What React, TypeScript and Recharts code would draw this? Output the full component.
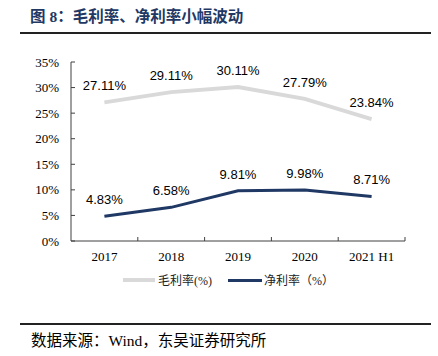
import React from "react";
import { LineChart, Line, XAxis, YAxis, LabelList } from "recharts";

const categories = ["2017", "2018", "2019", "2020", "2021 H1"];
const grossMargin = [27.11, 29.11, 30.11, 27.79, 23.84];
const netMargin = [4.83, 6.58, 9.81, 9.98, 8.71];
const yTicks = [0, 5, 10, 15, 20, 25, 30, 35];

const data = categories.map((c, i) => ({ name: c, gross: grossMargin[i], net: netMargin[i] }));

const NAVY = "#1F3864";
const GRAY = "#D9D9D9";
const SERIF = "'Liberation Serif', 'Times New Roman', serif";
const CJK = "'Liberation Serif', 'Noto Sans CJK SC', serif";

const XTick = (props: any) => {
  const { x, y, payload } = props;
  const off = payload && payload.offset ? payload.offset : 0;
  return (
    <g>
      <line x1={x + off} x2={x + off} y1={y} y2={y - 4} stroke="#404040" strokeWidth={1} />
      <text x={x} y={y + 20} textAnchor="middle" fontFamily={SERIF} fontSize={13} fill="#000">
        {payload.value}
      </text>
    </g>
  );
};

export default function App() {
  return (
    <div style={{ position: "absolute", left: 0, top: 0, width: 438, height: 356, background: "#fff" }}>
      <div
        style={{
          position: "absolute",
          left: 30,
          top: 7,
          fontFamily: CJK,
          fontWeight: "bold",
          fontSize: 15.5,
          color: NAVY,
          whiteSpace: "nowrap",
          lineHeight: "20px",
        }}
      >
        图 8：毛利率、净利率小幅波动
      </div>
      <div style={{ position: "absolute", left: 20, top: 32, width: 411, height: 2, background: "#222" }} />
      <div style={{ position: "absolute", left: 0, top: 0 }}>
        <LineChart
          width={438}
          height={356}
          data={data}
          margin={{ top: 62, right: 33, bottom: 85, left: 0 }}
        >
          <XAxis
            dataKey="name"
            scale="band"
            height={30}
            tick={<XTick />}
            tickLine={false}
            tickSize={0}
            tickMargin={0}
            axisLine={{ stroke: "#404040" }}
            interval={0}
          />
          <YAxis
            width={71}
            domain={[0, 35]}
            ticks={yTicks}
            tickFormatter={(v: number) => `${v}%`}
            tickSize={-4}
            tickMargin={16}
            tickLine={{ stroke: "#404040" }}
            axisLine={{ stroke: "#404040" }}
            tick={{ fontFamily: SERIF, fontSize: 13, fill: "#000" }}
            interval={0}
          />
          <Line
            type="linear"
            dataKey="gross"
            stroke={GRAY}
            strokeWidth={4}
            dot={false}
            isAnimationActive={false}
          >
            <LabelList
              dataKey="gross"
              position="top"
              offset={12}
              formatter={(v: any) => `${Number(v).toFixed(2)}%`}
              style={{ fontFamily: "'Liberation Sans', Arial, sans-serif", fontSize: 13, fill: "#000" }}
            />
          </Line>
          <Line
            type="linear"
            dataKey="net"
            stroke={NAVY}
            strokeWidth={3}
            dot={false}
            isAnimationActive={false}
          >
            <LabelList
              dataKey="net"
              position="top"
              offset={12}
              formatter={(v: any) => `${Number(v).toFixed(2)}%`}
              style={{ fontFamily: "'Liberation Sans', Arial, sans-serif", fontSize: 13, fill: "#000" }}
            />
          </Line>
        </LineChart>
      </div>
      <div
        style={{
          position: "absolute",
          left: 123,
          top: 271,
          height: 18,
          display: "flex",
          alignItems: "center",
          fontFamily: CJK,
          fontSize: 12,
          color: "#222",
          whiteSpace: "nowrap",
        }}
      >
        <span style={{ display: "inline-block", width: 32, height: 4, background: GRAY }} />
        <span style={{ marginLeft: 3 }}>毛利率(%)</span>
        <span style={{ display: "inline-block", width: 34, height: 3, background: NAVY, marginLeft: 16 }} />
        <span style={{ marginLeft: 2 }}>净利率（%）</span>
      </div>
      <div style={{ position: "absolute", left: 20, top: 323, width: 411, height: 2, background: "#222" }} />
      <div
        style={{
          position: "absolute",
          left: 31,
          top: 332,
          fontFamily: CJK,
          fontSize: 15.5,
          color: "#000",
          whiteSpace: "nowrap",
          lineHeight: "18px",
        }}
      >
        数据来源：Wind，东吴证券研究所
      </div>
    </div>
  );
}
